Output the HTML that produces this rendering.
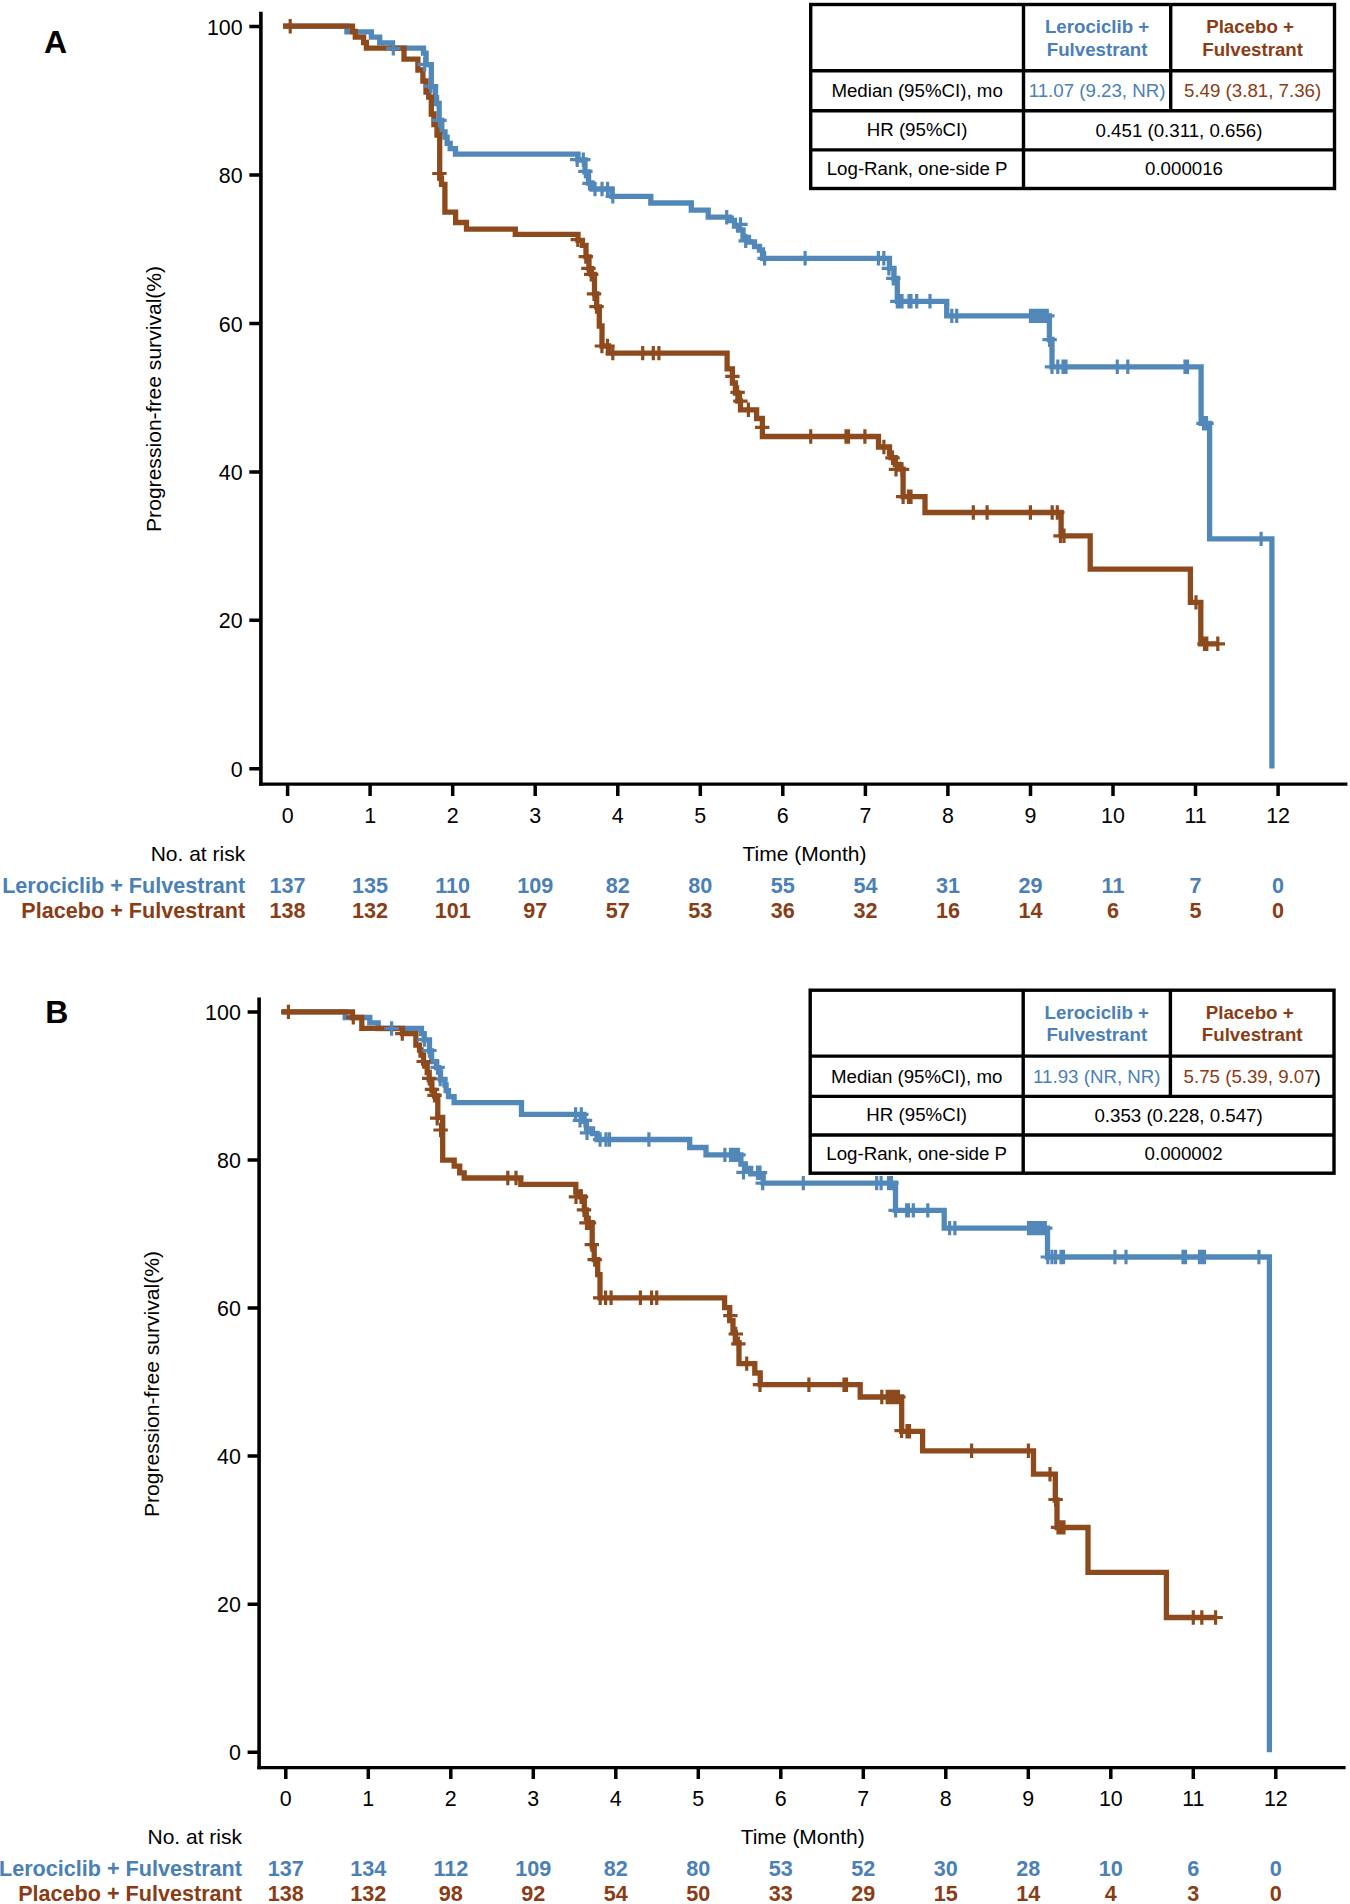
<!DOCTYPE html>
<html><head><meta charset="utf-8"><title>Kaplan-Meier PFS</title>
<style>
html,body{margin:0;padding:0;background:#fff;}
svg{display:block;}
text{font-family:'Liberation Sans', sans-serif;}
.t{font-size:21.0px;fill:#000;}
.tk{font-size:21.4px;fill:#000;}
.yl{font-size:21.1px;fill:#000;}
.rb{font-size:21.6px;font-weight:bold;fill:#4A80B5;}
.rr{font-size:21.6px;font-weight:bold;fill:#8A3C14;}
.L{font-size:32px;font-weight:bold;fill:#000;}
.hb{font-size:18.7px;font-weight:bold;fill:#4A80B5;}
.hr{font-size:18.7px;font-weight:bold;fill:#8A3C14;}
.tt{font-size:18.7px;fill:#000;}
</style></head>
<body>
<svg width="1350" height="1904" viewBox="0 0 1350 1904">
<rect width="1350" height="1904" fill="#fff"/>
<path d="M260.9,11.7 V785.8000000000001" stroke="#000" stroke-width="3.6" fill="none"/>
<path d="M259.1,784.2 H1347.4" stroke="#000" stroke-width="3.3" fill="none"/>
<text x="242.6" y="776.9" text-anchor="end" class="tk">0</text>
<text x="242.6" y="628.4" text-anchor="end" class="tk">20</text>
<text x="242.6" y="480.0" text-anchor="end" class="tk">40</text>
<text x="242.6" y="331.5" text-anchor="end" class="tk">60</text>
<text x="242.6" y="183.1" text-anchor="end" class="tk">80</text>
<text x="242.6" y="34.6" text-anchor="end" class="tk">100</text>
<path d="M249.3,768.8H260.9M249.3,620.3H260.9M249.3,471.9H260.9M249.3,323.4H260.9M249.3,175.0H260.9M249.3,26.5H260.9" stroke="#000" stroke-width="3.5"/>
<text x="287.6" y="823.0" text-anchor="middle" class="tk">0</text>
<text x="287.6" y="892.6" text-anchor="middle" class="rb">137</text>
<text x="287.6" y="918.1" text-anchor="middle" class="rr">138</text>
<text x="370.1" y="823.0" text-anchor="middle" class="tk">1</text>
<text x="370.1" y="892.6" text-anchor="middle" class="rb">135</text>
<text x="370.1" y="918.1" text-anchor="middle" class="rr">132</text>
<text x="452.7" y="823.0" text-anchor="middle" class="tk">2</text>
<text x="452.7" y="892.6" text-anchor="middle" class="rb">110</text>
<text x="452.7" y="918.1" text-anchor="middle" class="rr">101</text>
<text x="535.2" y="823.0" text-anchor="middle" class="tk">3</text>
<text x="535.2" y="892.6" text-anchor="middle" class="rb">109</text>
<text x="535.2" y="918.1" text-anchor="middle" class="rr">97</text>
<text x="617.8" y="823.0" text-anchor="middle" class="tk">4</text>
<text x="617.8" y="892.6" text-anchor="middle" class="rb">82</text>
<text x="617.8" y="918.1" text-anchor="middle" class="rr">57</text>
<text x="700.3" y="823.0" text-anchor="middle" class="tk">5</text>
<text x="700.3" y="892.6" text-anchor="middle" class="rb">80</text>
<text x="700.3" y="918.1" text-anchor="middle" class="rr">53</text>
<text x="782.8" y="823.0" text-anchor="middle" class="tk">6</text>
<text x="782.8" y="892.6" text-anchor="middle" class="rb">55</text>
<text x="782.8" y="918.1" text-anchor="middle" class="rr">36</text>
<text x="865.4" y="823.0" text-anchor="middle" class="tk">7</text>
<text x="865.4" y="892.6" text-anchor="middle" class="rb">54</text>
<text x="865.4" y="918.1" text-anchor="middle" class="rr">32</text>
<text x="947.9" y="823.0" text-anchor="middle" class="tk">8</text>
<text x="947.9" y="892.6" text-anchor="middle" class="rb">31</text>
<text x="947.9" y="918.1" text-anchor="middle" class="rr">16</text>
<text x="1030.5" y="823.0" text-anchor="middle" class="tk">9</text>
<text x="1030.5" y="892.6" text-anchor="middle" class="rb">29</text>
<text x="1030.5" y="918.1" text-anchor="middle" class="rr">14</text>
<text x="1113.0" y="823.0" text-anchor="middle" class="tk">10</text>
<text x="1113.0" y="892.6" text-anchor="middle" class="rb">11</text>
<text x="1113.0" y="918.1" text-anchor="middle" class="rr">6</text>
<text x="1195.5" y="823.0" text-anchor="middle" class="tk">11</text>
<text x="1195.5" y="892.6" text-anchor="middle" class="rb">7</text>
<text x="1195.5" y="918.1" text-anchor="middle" class="rr">5</text>
<text x="1278.1" y="823.0" text-anchor="middle" class="tk">12</text>
<text x="1278.1" y="892.6" text-anchor="middle" class="rb">0</text>
<text x="1278.1" y="918.1" text-anchor="middle" class="rr">0</text>
<path d="M287.6,784.2V795.9M370.1,784.2V795.9M452.7,784.2V795.9M535.2,784.2V795.9M617.8,784.2V795.9M700.3,784.2V795.9M782.8,784.2V795.9M865.4,784.2V795.9M947.9,784.2V795.9M1030.5,784.2V795.9M1113.0,784.2V795.9M1195.5,784.2V795.9M1278.1,784.2V795.9" stroke="#000" stroke-width="3.5"/>
<text x="44.0" y="52.9" class="L">A</text>
<text x="804.5" y="860.7" text-anchor="middle" class="t">Time (Month)</text>
<text x="245.2" y="860.7" text-anchor="end" class="t">No. at risk</text>
<text x="245.2" y="892.6" text-anchor="end" class="rb">Lerociclib + Fulvestrant</text>
<text x="245.2" y="918.1" text-anchor="end" class="rr">Placebo + Fulvestrant</text>
<text transform="translate(160.7,398.9) rotate(-90)" text-anchor="middle" class="yl">Progression-free survival(%)</text>
<path d="M283,26.2 H346.9 V31.8 H371.4 V37.2 H379.7 V42.8 H392.5 V48.1 H423.5 V53.1 H426.1 V64.6 H431.3 V86.7 H435.5 V97.7 H436.6 V103.5 H439.2 V120.3 H441.8 V131.8 H445 V137.1 H447.1 V143.4 H450.2 V148.6 H455.5 V154.1 H578 V160 H585 V172 H588.5 V183 H592 V189 H612 V196.3 H650.8 V203 H691.3 V210.2 H708.2 V217.2 H729.5 V220.5 H734.5 V226 H738.5 V230 H743 V237.5 H748.5 V242 H754.5 V246.5 H759.5 V250 H762.5 V258.3 H889.5 V268.4 H894 V278.4 H897.3 V301.3 H946.7 V315.9 H1049.4 V339.5 H1052 V366.8 H1201.1 V423.3 H1209.6 V538.9 H1271.9 V768.6" stroke="#5288B9" stroke-width="5.3" fill="none" stroke-linejoin="miter" stroke-miterlimit="10"/>
<path d="M283,26.2 H352.5 V31.5 H355.3 V37.2 H363.6 V42.5 H366.4 V48.1 H404 V59.1 H417.9 V70 H422.9 V81 H426 V92 H428.7 V97.2 H431.3 V114 H433.9 V124.5 H437 V135 H439.7 V178 H441.5 V184.4 H444.9 V212.2 H455.6 V222.5 H466.5 V229.2 H515.3 V234.4 H578 V240.3 H582.4 V245.3 H586 V256.8 H589 V268.6 H591.5 V274.3 H594.5 V293.8 H596.7 V306.8 H599.3 V326 H602 V346 H608.5 V353.1 H727.1 V368.8 H732.4 V383 H735.4 V393 H737.9 V401 H740.5 V409.8 H756.6 V418.5 H762.4 V436.5 H878.5 V447 H889.5 V453.3 H891.1 V457.6 H895.3 V464.4 H899.3 V469.1 H903.1 V496.7 H925 V512.5 H1061.1 V535.8 H1090.2 V569.1 H1190.4 V602.4 H1200.8 V643.8 H1217.8" stroke="#8D4A1D" stroke-width="5.3" fill="none" stroke-linejoin="miter" stroke-miterlimit="10"/>
<path d="M386.1,48.3h14.4M393.3,41.1v14.4M417.5,64.3h14.4M424.7,57.1v14.4M423.8,86.2h14.4M431.0,79.0v14.4M432.2,120.3h14.4M439.4,113.1v14.4M570.0,159.7h14.4M577.2,152.5v14.4M576.1,159.7h14.4M583.3,152.5v14.4M578.2,171.4h14.4M585.4,164.2v14.4M582.3,183.3h14.4M589.5,176.1v14.4M587.8,189.0h14.4M595.0,181.8v14.4M594.8,189.0h14.4M602.0,181.8v14.4M600.4,189.0h14.4M607.6,181.8v14.4M605.6,196.3h14.4M612.8,189.1v14.4M719.5,217.2h14.4M726.7,210.0v14.4M733.3,224.4h14.4M740.5,217.2v14.4M738.5,240.9h14.4M745.7,233.7v14.4M757.4,258.3h14.4M764.6,251.1v14.4M797.9,258.3h14.4M805.1,251.1v14.4M871.2,258.3h14.4M878.4,251.1v14.4M876.6,258.3h14.4M883.8,251.1v14.4M881.7,268.4h14.4M888.9,261.2v14.4M886.1,278.4h14.4M893.3,271.2v14.4M890.1,301.3h14.4M897.3,294.1v14.4M892.3,301.3h14.4M899.5,294.1v14.4M894.8,301.3h14.4M902.0,294.1v14.4M901.8,301.3h14.4M909.0,294.1v14.4M903.8,301.3h14.4M911.0,294.1v14.4M909.5,301.3h14.4M916.7,294.1v14.4M922.8,301.3h14.4M930.0,294.1v14.4M944.6,315.9h14.4M951.8,308.7v14.4M949.5,315.9h14.4M956.7,308.7v14.4M1023.3,315.9h14.4M1030.5,308.7v14.4M1025.7,315.9h14.4M1032.9,308.7v14.4M1028.1,315.9h14.4M1035.3,308.7v14.4M1030.5,315.9h14.4M1037.7,308.7v14.4M1032.9,315.9h14.4M1040.1,308.7v14.4M1035.3,315.9h14.4M1042.5,308.7v14.4M1037.7,315.9h14.4M1044.9,308.7v14.4M1040.1,315.9h14.4M1047.3,308.7v14.4M1042.4,339.7h14.4M1049.6,332.5v14.4M1044.8,366.8h14.4M1052.0,359.6v14.4M1050.6,366.8h14.4M1057.8,359.6v14.4M1055.8,366.8h14.4M1063.0,359.6v14.4M1058.8,366.8h14.4M1066.0,359.6v14.4M1110.1,366.8h14.4M1117.3,359.6v14.4M1120.6,366.8h14.4M1127.8,359.6v14.4M1177.8,366.8h14.4M1185.0,359.6v14.4M1180.3,366.8h14.4M1187.5,359.6v14.4M1196.3,423.3h14.4M1203.5,416.1v14.4M1199.3,423.3h14.4M1206.5,416.1v14.4M1253.9,538.9h14.4M1261.1,531.7v14.4" stroke="#5288B9" stroke-width="3.2" fill="none"/>
<path d="M283.0,26.2h14.4M290.2,19.0v14.4M432.2,173.5h14.4M439.4,166.3v14.4M570.6,239.7h14.4M577.8,232.5v14.4M578.6,256.6h14.4M585.8,249.4v14.4M581.2,268.4h14.4M588.4,261.2v14.4M584.0,274.3h14.4M591.2,267.1v14.4M586.8,293.8h14.4M594.0,286.6v14.4M589.3,306.6h14.4M596.5,299.4v14.4M594.7,346.0h14.4M601.9,338.8v14.4M600.3,346.0h14.4M607.5,338.8v14.4M605.6,353.1h14.4M612.8,345.9v14.4M635.5,353.1h14.4M642.7,345.9v14.4M646.1,353.1h14.4M653.3,345.9v14.4M651.7,353.1h14.4M658.9,345.9v14.4M725.2,376.4h14.4M732.4,369.2v14.4M730.4,392.4h14.4M737.6,385.2v14.4M733.2,401.2h14.4M740.4,394.0v14.4M741.2,409.8h14.4M748.4,402.6v14.4M755.0,427.4h14.4M762.2,420.2v14.4M803.5,436.5h14.4M810.7,429.3v14.4M838.8,436.5h14.4M846.0,429.3v14.4M841.3,436.5h14.4M848.5,429.3v14.4M857.7,436.5h14.4M864.9,429.3v14.4M876.7,447.0h14.4M883.9,439.8v14.4M885.3,457.8h14.4M892.5,450.6v14.4M888.8,469.4h14.4M896.0,462.2v14.4M894.8,469.4h14.4M902.0,462.2v14.4M895.9,496.7h14.4M903.1,489.5v14.4M901.3,496.7h14.4M908.5,489.5v14.4M903.8,496.7h14.4M911.0,489.5v14.4M966.1,512.5h14.4M973.3,505.3v14.4M979.9,512.5h14.4M987.1,505.3v14.4M1023.2,512.5h14.4M1030.4,505.3v14.4M1045.0,512.5h14.4M1052.2,505.3v14.4M1050.1,512.5h14.4M1057.3,505.3v14.4M1053.3,535.8h14.4M1060.5,528.6v14.4M1056.8,535.8h14.4M1064.0,528.6v14.4M1188.8,602.4h14.4M1196.0,595.2v14.4M1197.3,643.8h14.4M1204.5,636.6v14.4M1199.6,643.8h14.4M1206.8,636.6v14.4M1210.6,643.8h14.4M1217.8,636.6v14.4" stroke="#8D4A1D" stroke-width="3.2" fill="none"/>
<rect x="810.7" y="4.5" width="523.8" height="184.0" fill="#fff" stroke="none"/>
<path d="M810.7,70.7H1334.5M810.7,110.7H1334.5M810.7,149.9H1334.5M1023.5,4.5V188.5M1170.7,4.5V110.7" stroke="#000" stroke-width="3.4"/>
<rect x="810.7" y="4.5" width="523.8" height="184.0" fill="none" stroke="#000" stroke-width="3.4"/>
<text x="1097.1" y="32.6" text-anchor="middle" class="hb">Lerociclib +</text>
<text x="1097.1" y="56.0" text-anchor="middle" class="hb">Fulvestrant</text>
<text x="1250.1" y="32.6" text-anchor="middle" class="hr">Placebo +</text>
<text x="1252.6" y="56.0" text-anchor="middle" class="hr">Fulvestrant</text>
<text x="917.1" y="96.7" text-anchor="middle" class="tt">Median (95%CI), mo</text>
<text x="917.1" y="135.8" text-anchor="middle" class="tt">HR (95%CI)</text>
<text x="917.1" y="174.7" text-anchor="middle" class="tt">Log-Rank, one-side P</text>
<text x="1097.1" y="96.7" text-anchor="middle" class="tt" style="fill:#4A80B5">11.07 (9.23, NR)</text>
<text x="1252.6" y="96.7" text-anchor="middle" class="tt" style="fill:#8A3C14">5.49 (3.81, 7.36)</text>
<text x="1179.0" y="136.60000000000002" text-anchor="middle" class="tt">0.451 (0.311, 0.656)</text>
<text x="1184.0" y="175.29999999999998" text-anchor="middle" class="tt">0.000016</text>
<path d="M259.1,997.5 V1769.1999999999998" stroke="#000" stroke-width="3.6" fill="none"/>
<path d="M257.3,1767.6 H1345.6" stroke="#000" stroke-width="3.3" fill="none"/>
<text x="240.8" y="1760.4" text-anchor="end" class="tk">0</text>
<text x="240.8" y="1612.3" text-anchor="end" class="tk">20</text>
<text x="240.8" y="1464.2" text-anchor="end" class="tk">40</text>
<text x="240.8" y="1316.2" text-anchor="end" class="tk">60</text>
<text x="240.8" y="1168.1" text-anchor="end" class="tk">80</text>
<text x="240.8" y="1020.0" text-anchor="end" class="tk">100</text>
<path d="M247.6,1752.3H259.1M247.6,1604.2H259.1M247.6,1456.1H259.1M247.6,1308.1H259.1M247.6,1160.0H259.1M247.6,1011.9H259.1" stroke="#000" stroke-width="3.5"/>
<text x="285.8" y="1806.3" text-anchor="middle" class="tk">0</text>
<text x="285.8" y="1876.4" text-anchor="middle" class="rb">137</text>
<text x="285.8" y="1900.8" text-anchor="middle" class="rr">138</text>
<text x="368.3" y="1806.3" text-anchor="middle" class="tk">1</text>
<text x="368.3" y="1876.4" text-anchor="middle" class="rb">134</text>
<text x="368.3" y="1900.8" text-anchor="middle" class="rr">132</text>
<text x="450.8" y="1806.3" text-anchor="middle" class="tk">2</text>
<text x="450.8" y="1876.4" text-anchor="middle" class="rb">112</text>
<text x="450.8" y="1900.8" text-anchor="middle" class="rr">98</text>
<text x="533.3" y="1806.3" text-anchor="middle" class="tk">3</text>
<text x="533.3" y="1876.4" text-anchor="middle" class="rb">109</text>
<text x="533.3" y="1900.8" text-anchor="middle" class="rr">92</text>
<text x="615.8" y="1806.3" text-anchor="middle" class="tk">4</text>
<text x="615.8" y="1876.4" text-anchor="middle" class="rb">82</text>
<text x="615.8" y="1900.8" text-anchor="middle" class="rr">54</text>
<text x="698.3" y="1806.3" text-anchor="middle" class="tk">5</text>
<text x="698.3" y="1876.4" text-anchor="middle" class="rb">80</text>
<text x="698.3" y="1900.8" text-anchor="middle" class="rr">50</text>
<text x="780.8" y="1806.3" text-anchor="middle" class="tk">6</text>
<text x="780.8" y="1876.4" text-anchor="middle" class="rb">53</text>
<text x="780.8" y="1900.8" text-anchor="middle" class="rr">33</text>
<text x="863.3" y="1806.3" text-anchor="middle" class="tk">7</text>
<text x="863.3" y="1876.4" text-anchor="middle" class="rb">52</text>
<text x="863.3" y="1900.8" text-anchor="middle" class="rr">29</text>
<text x="945.8" y="1806.3" text-anchor="middle" class="tk">8</text>
<text x="945.8" y="1876.4" text-anchor="middle" class="rb">30</text>
<text x="945.8" y="1900.8" text-anchor="middle" class="rr">15</text>
<text x="1028.3" y="1806.3" text-anchor="middle" class="tk">9</text>
<text x="1028.3" y="1876.4" text-anchor="middle" class="rb">28</text>
<text x="1028.3" y="1900.8" text-anchor="middle" class="rr">14</text>
<text x="1110.8" y="1806.3" text-anchor="middle" class="tk">10</text>
<text x="1110.8" y="1876.4" text-anchor="middle" class="rb">10</text>
<text x="1110.8" y="1900.8" text-anchor="middle" class="rr">4</text>
<text x="1193.3" y="1806.3" text-anchor="middle" class="tk">11</text>
<text x="1193.3" y="1876.4" text-anchor="middle" class="rb">6</text>
<text x="1193.3" y="1900.8" text-anchor="middle" class="rr">3</text>
<text x="1275.8" y="1806.3" text-anchor="middle" class="tk">12</text>
<text x="1275.8" y="1876.4" text-anchor="middle" class="rb">0</text>
<text x="1275.8" y="1900.8" text-anchor="middle" class="rr">0</text>
<path d="M285.8,1767.6V1778.9M368.3,1767.6V1778.9M450.8,1767.6V1778.9M533.3,1767.6V1778.9M615.8,1767.6V1778.9M698.3,1767.6V1778.9M780.8,1767.6V1778.9M863.3,1767.6V1778.9M945.8,1767.6V1778.9M1028.3,1767.6V1778.9M1110.8,1767.6V1778.9M1193.3,1767.6V1778.9M1275.8,1767.6V1778.9" stroke="#000" stroke-width="3.5"/>
<text x="45.3" y="1023.3" class="L">B</text>
<text x="802.7" y="1843.5" text-anchor="middle" class="t">Time (Month)</text>
<text x="242.0" y="1843.5" text-anchor="end" class="t">No. at risk</text>
<text x="242.0" y="1876.4" text-anchor="end" class="rb">Lerociclib + Fulvestrant</text>
<text x="242.0" y="1900.8" text-anchor="end" class="rr">Placebo + Fulvestrant</text>
<text transform="translate(158.9,1384.0) rotate(-90)" text-anchor="middle" class="yl">Progression-free survival(%)</text>
<path d="M281.5,1011.9 H345.2 V1017.5 H369.8 V1022.8 H378.2 V1028.5 H421.5 V1033.6 H424.2 V1039.9 H429.5 V1051 H431.6 V1061.7 H436.6 V1067.6 H438.5 V1071.8 H440.5 V1079.5 H444.9 V1084.8 H446.1 V1090.7 H448.5 V1096.7 H454.1 V1102.7 H521.5 V1114.4 H583.8 V1121.3 H586.5 V1128.9 H592.5 V1133.5 H597 V1139.5 H689.7 V1147.5 H706 V1154.9 H740.9 V1164 H745.4 V1168.4 H750.7 V1173.8 H763.2 V1183.1 H895.5 V1210.4 H944.2 V1228.1 H1047.5 V1257 H1269.4 V1752.3" stroke="#5288B9" stroke-width="5.3" fill="none" stroke-linejoin="miter" stroke-miterlimit="10"/>
<path d="M281.5,1011.9 H352.5 V1017.5 H361.8 V1028.3 H402.5 V1033.6 H415.9 V1045.2 H419.5 V1050 H421 V1055 H423.6 V1063 H427.2 V1072.5 H429.2 V1079.6 H431.9 V1090.3 H434.5 V1096 H437.8 V1117.4 H442.7 V1160.2 H454.2 V1166.1 H459.7 V1172.8 H464.2 V1178 H520.8 V1184.4 H575.8 V1192 H580.2 V1196.8 H584.3 V1209.8 H586.4 V1218.6 H588.1 V1222.6 H592.2 V1246 H594.2 V1259.6 H597.7 V1274.6 H600 V1297.8 H724.6 V1307.6 H729.7 V1320.6 H733 V1332.6 H735.3 V1342.6 H739 V1363.6 H754.8 V1373 H760.2 V1384.7 H860.2 V1397 H901.7 V1431.3 H922.6 V1450.8 H1033.5 V1474.2 H1055.3 V1500 H1057 V1527.5 H1088 V1572.4 H1166.4 V1617.5 H1215.6" stroke="#8D4A1D" stroke-width="5.3" fill="none" stroke-linejoin="miter" stroke-miterlimit="10"/>
<path d="M384.4,1028.5h14.4M391.6,1021.3v14.4M417.3,1039.6h14.4M424.5,1032.4v14.4M422.2,1050.5h14.4M429.4,1043.3v14.4M430.4,1067.4h14.4M437.6,1060.2v14.4M433.0,1079.0h14.4M440.2,1071.8v14.4M568.4,1114.4h14.4M575.6,1107.2v14.4M574.1,1114.4h14.4M581.3,1107.2v14.4M572.8,1120.4h14.4M580.0,1113.2v14.4M577.8,1120.4h14.4M585.0,1113.2v14.4M579.8,1132.9h14.4M587.0,1125.7v14.4M592.9,1139.5h14.4M600.1,1132.3v14.4M598.8,1139.5h14.4M606.0,1132.3v14.4M602.3,1139.5h14.4M609.5,1132.3v14.4M641.7,1139.5h14.4M648.9,1132.3v14.4M717.7,1154.9h14.4M724.9,1147.7v14.4M723.3,1154.9h14.4M730.5,1147.7v14.4M725.8,1154.9h14.4M733.0,1147.7v14.4M728.8,1154.9h14.4M736.0,1147.7v14.4M731.3,1154.9h14.4M738.5,1147.7v14.4M736.3,1172.4h14.4M743.5,1165.2v14.4M750.3,1172.7h14.4M757.5,1165.5v14.4M752.8,1172.7h14.4M760.0,1165.5v14.4M755.5,1183.1h14.4M762.7,1175.9v14.4M796.1,1183.1h14.4M803.3,1175.9v14.4M869.5,1183.1h14.4M876.7,1175.9v14.4M873.9,1183.1h14.4M881.1,1175.9v14.4M881.3,1183.1h14.4M888.5,1175.9v14.4M884.3,1183.1h14.4M891.5,1175.9v14.4M888.4,1210.4h14.4M895.6,1203.2v14.4M899.5,1210.4h14.4M906.7,1203.2v14.4M901.2,1210.4h14.4M908.4,1203.2v14.4M906.1,1210.4h14.4M913.3,1203.2v14.4M920.6,1210.4h14.4M927.8,1203.2v14.4M942.4,1228.1h14.4M949.6,1220.9v14.4M947.7,1228.1h14.4M954.9,1220.9v14.4M1021.3,1228.1h14.4M1028.5,1220.9v14.4M1023.7,1228.1h14.4M1030.9,1220.9v14.4M1026.1,1228.1h14.4M1033.3,1220.9v14.4M1028.5,1228.1h14.4M1035.7,1220.9v14.4M1030.9,1228.1h14.4M1038.1,1220.9v14.4M1033.3,1228.1h14.4M1040.5,1220.9v14.4M1035.7,1228.1h14.4M1042.9,1220.9v14.4M1038.1,1228.1h14.4M1045.3,1220.9v14.4M1040.6,1257.0h14.4M1047.8,1249.8v14.4M1044.8,1257.0h14.4M1052.0,1249.8v14.4M1048.4,1257.0h14.4M1055.6,1249.8v14.4M1053.8,1257.0h14.4M1061.0,1249.8v14.4M1056.3,1257.0h14.4M1063.5,1249.8v14.4M1107.7,1257.0h14.4M1114.9,1249.8v14.4M1118.8,1257.0h14.4M1126.0,1249.8v14.4M1175.8,1257.0h14.4M1183.0,1249.8v14.4M1178.3,1257.0h14.4M1185.5,1249.8v14.4M1192.3,1257.0h14.4M1199.5,1249.8v14.4M1194.8,1257.0h14.4M1202.0,1249.8v14.4M1197.3,1257.0h14.4M1204.5,1249.8v14.4M1251.7,1257.0h14.4M1258.9,1249.8v14.4" stroke="#5288B9" stroke-width="3.2" fill="none"/>
<path d="M281.2,1011.9h14.4M288.4,1004.7v14.4M346.1,1017.3h14.4M353.3,1010.1v14.4M395.1,1033.6h14.4M402.3,1026.4v14.4M416.5,1061.5h14.4M423.7,1054.3v14.4M422.0,1078.4h14.4M429.2,1071.2v14.4M424.8,1089.3h14.4M432.0,1082.1v14.4M427.3,1095.3h14.4M434.5,1088.1v14.4M430.0,1118.2h14.4M437.2,1111.0v14.4M433.4,1130.0h14.4M440.6,1122.8v14.4M500.6,1178.0h14.4M507.8,1170.8v14.4M508.8,1178.0h14.4M516.0,1170.8v14.4M568.8,1196.8h14.4M576.0,1189.6v14.4M573.8,1196.8h14.4M581.0,1189.6v14.4M576.8,1209.8h14.4M584.0,1202.6v14.4M579.3,1222.8h14.4M586.5,1215.6v14.4M581.8,1222.8h14.4M589.0,1215.6v14.4M584.6,1244.6h14.4M591.8,1237.4v14.4M587.5,1259.6h14.4M594.7,1252.4v14.4M593.0,1297.8h14.4M600.2,1290.6v14.4M598.4,1297.8h14.4M605.6,1290.6v14.4M603.9,1297.8h14.4M611.1,1290.6v14.4M633.2,1297.8h14.4M640.4,1290.6v14.4M644.4,1297.8h14.4M651.6,1290.6v14.4M649.5,1297.8h14.4M656.7,1290.6v14.4M723.2,1315.6h14.4M730.4,1308.4v14.4M728.6,1334.0h14.4M735.8,1326.8v14.4M731.2,1343.8h14.4M738.4,1336.6v14.4M739.5,1363.6h14.4M746.7,1356.4v14.4M752.8,1384.7h14.4M760.0,1377.5v14.4M801.7,1384.7h14.4M808.9,1377.5v14.4M836.8,1384.7h14.4M844.0,1377.5v14.4M839.3,1384.7h14.4M846.5,1377.5v14.4M874.6,1397.0h14.4M881.8,1389.8v14.4M880.0,1397.0h14.4M887.2,1389.8v14.4M882.3,1397.0h14.4M889.5,1389.8v14.4M884.6,1397.0h14.4M891.8,1389.8v14.4M886.9,1397.0h14.4M894.1,1389.8v14.4M889.2,1397.0h14.4M896.4,1389.8v14.4M891.2,1397.0h14.4M898.4,1389.8v14.4M894.4,1430.7h14.4M901.6,1423.5v14.4M899.8,1431.3h14.4M907.0,1424.1v14.4M902.3,1431.3h14.4M909.5,1424.1v14.4M964.4,1450.8h14.4M971.6,1443.6v14.4M1021.2,1450.8h14.4M1028.4,1443.6v14.4M1042.8,1474.2h14.4M1050.0,1467.0v14.4M1048.4,1499.5h14.4M1055.6,1492.3v14.4M1050.8,1527.4h14.4M1058.0,1520.2v14.4M1053.8,1527.4h14.4M1061.0,1520.2v14.4M1056.8,1527.4h14.4M1064.0,1520.2v14.4M1186.1,1617.5h14.4M1193.3,1610.3v14.4M1194.6,1617.5h14.4M1201.8,1610.3v14.4M1208.4,1617.5h14.4M1215.6,1610.3v14.4" stroke="#8D4A1D" stroke-width="3.2" fill="none"/>
<rect x="810.2" y="990.2" width="523.8" height="183.0" fill="#fff" stroke="none"/>
<path d="M810.2,1056.1H1334.0M810.2,1096.4H1334.0M810.2,1135.0H1334.0M1023.2,990.2V1173.2M1170.4,990.2V1096.4" stroke="#000" stroke-width="3.4"/>
<rect x="810.2" y="990.2" width="523.8" height="183.0" fill="none" stroke="#000" stroke-width="3.4"/>
<text x="1096.8" y="1018.7" text-anchor="middle" class="hb">Lerociclib +</text>
<text x="1096.8" y="1041.1" text-anchor="middle" class="hb">Fulvestrant</text>
<text x="1249.7" y="1018.7" text-anchor="middle" class="hr">Placebo +</text>
<text x="1252.2" y="1041.1" text-anchor="middle" class="hr">Fulvestrant</text>
<text x="916.7" y="1082.5" text-anchor="middle" class="tt">Median (95%CI), mo</text>
<text x="916.7" y="1121.2" text-anchor="middle" class="tt">HR (95%CI)</text>
<text x="916.7" y="1159.7" text-anchor="middle" class="tt">Log-Rank, one-side P</text>
<text x="1096.8" y="1082.5" text-anchor="middle" class="tt" style="fill:#4A80B5">11.93 (NR, NR)</text>
<text x="1252.2" y="1082.5" text-anchor="middle" class="tt"><tspan style="fill:#8A3C14">5.75 (5.39, 9.07</tspan>)</text>
<text x="1178.6" y="1122.0" text-anchor="middle" class="tt">0.353 (0.228, 0.547)</text>
<text x="1183.6" y="1160.3" text-anchor="middle" class="tt">0.000002</text>
</svg>
</body></html>
